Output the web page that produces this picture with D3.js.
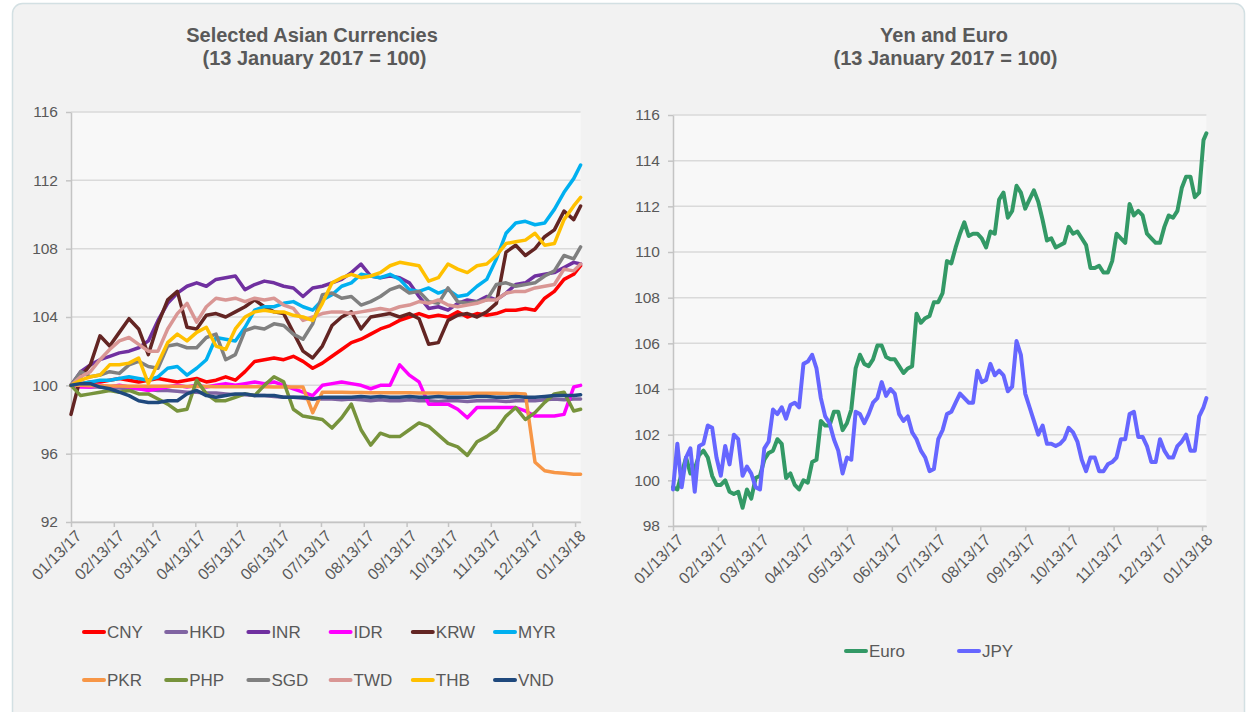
<!DOCTYPE html>
<html>
<head>
<meta charset="utf-8">
<script src="https://cdn.jsdelivr.net/npm/d3@7"></script>
<style>
  html, body { margin: 0; padding: 0; background: #ffffff; }
  svg { display: block; font-family: "Liberation Sans", Arial, sans-serif; }
</style>
</head>
<body>
<svg id="chart" width="1249" height="712"></svg>
<script>
// ---------- Selected Asian currencies, weekly index (13 Jan 2017 = 100) ----------
const asiaDates = ["01/13/17","01/20/17","01/27/17","02/03/17","02/10/17","02/17/17","02/24/17","03/03/17","03/10/17","03/17/17",
  "03/24/17","03/31/17","04/07/17","04/14/17","04/21/17","04/28/17","05/05/17","05/12/17","05/19/17","05/26/17",
  "06/02/17","06/09/17","06/16/17","06/23/17","06/30/17","07/07/17","07/14/17","07/21/17","07/28/17","08/04/17",
  "08/11/17","08/18/17","08/25/17","09/01/17","09/08/17","09/15/17","09/22/17","09/29/17","10/06/17","10/13/17",
  "10/20/17","10/27/17","11/03/17","11/10/17","11/17/17","11/24/17","12/01/17","12/08/17","12/15/17","12/22/17",
  "12/29/17","01/05/18","01/12/18","01/17/18"];

const asiaNames = ["CNY","HKD","INR","IDR","KRW","MYR","PKR","PHP","SGD","TWD","THB","VND"];
const asiaColors = ["#ff0000","#8064a2","#7030a0","#ff00ff","#632523","#00b0f0","#f79646","#77933c","#808080","#d99694","#ffc000","#1f497d"];

const cny = [100.0,100.1,100.2,100.2,100.3,100.4,100.3,100.2,100.3,100.4,
  100.3,100.2,100.3,100.4,100.2,100.3,100.5,100.3,100.8,101.4,
  101.5,101.6,101.5,101.7,101.4,101.0,101.3,101.7,102.1,102.5,
  102.7,103.0,103.3,103.5,103.8,104.0,104.2,104.0,104.1,104.0,
  104.3,104.0,104.2,104.1,104.2,104.4,104.4,104.5,104.4,105.1,
  105.5,106.2,106.5,107.0];
const hkd = [100.0,99.95,99.9,99.9,99.85,99.85,99.8,99.8,99.75,99.7,
  99.7,99.65,99.6,99.6,99.55,99.55,99.5,99.45,99.45,99.4,
  99.4,99.35,99.3,99.3,99.25,99.2,99.2,99.2,99.15,99.2,
  99.15,99.1,99.15,99.1,99.1,99.15,99.1,99.1,99.05,99.1,
  99.1,99.05,99.1,99.1,99.1,99.05,99.1,99.1,99.1,99.15,
  99.2,99.15,99.2,99.2];
const inr = [100.0,100.8,101.2,101.5,101.7,101.9,102.0,102.2,102.6,103.8,
  104.8,105.4,105.8,106.0,105.8,106.2,106.3,106.4,105.6,105.9,
  106.1,106.0,105.8,105.7,105.2,105.7,105.8,106.0,106.2,106.6,
  107.1,106.4,106.3,106.4,106.3,106.0,105.2,104.5,104.6,104.4,
  104.8,105.0,104.9,105.2,105.0,105.4,105.9,106.0,106.4,106.5,
  106.6,106.9,107.2,107.1];
const idr = [100.0,99.9,99.9,100.0,99.9,100.0,99.9,99.8,99.7,99.8,
  99.9,100.0,99.9,100.0,99.9,100.0,100.1,100.0,100.1,100.2,
  100.1,100.2,100.0,99.8,99.6,99.4,100.0,100.1,100.2,100.1,
  100.0,99.8,100.0,100.0,101.2,100.6,100.2,98.9,98.9,98.9,
  98.6,98.1,98.7,98.7,98.7,98.7,98.7,98.5,98.2,98.2,
  98.2,98.3,99.9,100.0];
const krw = [98.3,100.5,101.2,102.9,102.3,103.1,103.9,103.3,101.8,103.6,
  105.0,105.5,103.4,103.3,104.1,104.2,104.0,104.3,104.6,105.0,
  104.6,104.3,104.2,103.1,102.0,101.6,102.3,103.5,104.0,104.3,
  103.3,104.0,104.1,104.2,104.0,104.2,103.9,102.4,102.5,103.8,
  104.1,104.2,104.0,104.3,104.8,107.8,108.2,107.6,108.0,108.7,
  109.1,110.2,109.7,110.5];
const myr = [100.0,100.1,100.2,100.3,100.3,100.4,100.5,100.4,100.3,100.5,
  101.0,101.1,100.6,101.0,101.5,102.8,102.7,102.6,103.4,104.4,
  104.6,104.6,104.8,104.9,104.6,104.4,105.0,105.3,105.8,106.0,
  106.5,106.4,106.3,106.5,106.2,105.6,105.5,105.7,105.4,105.6,
  105.2,105.3,105.8,106.2,107.4,108.9,109.5,109.6,109.4,109.5,
  110.3,111.3,112.1,112.9];
const pkr = [100.0,100.0,99.98,99.97,99.96,99.96,99.95,99.95,99.95,99.94,
  99.94,99.94,99.93,99.93,99.93,99.92,99.92,99.92,99.92,99.91,
  99.91,99.9,99.9,99.9,99.9,98.4,99.6,99.6,99.6,99.58,
  99.58,99.57,99.57,99.56,99.56,99.56,99.55,99.55,99.55,99.54,
  99.54,99.54,99.53,99.53,99.53,99.52,99.52,99.5,95.5,95.0,
  94.9,94.85,94.8,94.8];
const php = [100.0,99.4,99.5,99.6,99.7,99.6,99.7,99.5,99.5,99.2,
  98.9,98.5,98.6,100.3,99.5,99.1,99.1,99.3,99.5,99.4,
  100.0,100.5,100.2,98.6,98.2,98.1,98.0,97.5,98.1,98.9,
  97.4,96.5,97.2,97.0,97.0,97.4,97.8,97.6,97.1,96.6,
  96.4,95.9,96.7,97.0,97.4,98.2,98.7,98.0,98.4,99.0,
  99.5,99.6,98.5,98.6];
const sgd = [100.0,100.8,100.5,100.6,100.8,100.7,101.2,101.4,101.1,101.0,
  102.3,102.4,102.2,102.2,102.8,103.0,101.5,101.8,103.2,103.4,
  103.3,103.6,103.5,103.0,102.7,103.6,105.3,105.4,105.1,105.2,
  104.7,104.9,105.2,105.6,105.8,105.4,105.5,104.9,104.8,105.7,
  104.9,104.8,104.9,105.0,105.9,106.0,105.8,105.9,106.0,106.4,
  106.7,107.6,107.4,108.1];
const twd = [100.0,100.5,100.8,101.5,102.1,102.6,102.8,102.4,102.0,102.0,
  103.3,104.2,104.8,103.7,104.6,105.1,105.0,105.1,104.9,105.1,
  105.0,105.1,104.7,104.5,103.8,104.0,104.2,104.3,104.3,104.2,
  104.3,104.4,104.5,104.4,104.6,104.7,104.9,104.8,105.0,104.7,
  104.6,104.7,104.8,105.0,105.0,105.4,105.5,105.5,105.7,105.8,
  105.9,106.8,106.7,107.1];
const thb = [100.0,100.3,100.5,100.6,101.2,101.2,101.3,101.6,100.1,101.3,
  102.5,103.0,102.6,103.1,103.4,102.3,102.1,103.3,104.0,104.3,
  104.4,104.3,104.3,104.1,104.0,103.8,104.8,106.0,106.3,106.5,
  106.3,106.4,106.6,107.0,107.2,107.1,107.0,106.1,106.3,107.1,
  106.8,106.6,107.0,107.1,107.6,108.3,108.4,108.5,108.9,108.2,
  108.3,109.7,110.5,111.0];
const vnd = [100.0,100.1,100.1,99.9,99.8,99.6,99.4,99.1,99.0,99.0,
  99.1,99.1,99.5,99.7,99.4,99.3,99.4,99.5,99.5,99.4,
  99.4,99.4,99.3,99.3,99.3,99.2,99.3,99.3,99.3,99.3,
  99.35,99.3,99.35,99.3,99.3,99.35,99.3,99.3,99.35,99.3,
  99.3,99.3,99.35,99.35,99.3,99.3,99.35,99.3,99.3,99.35,
  99.4,99.4,99.4,99.45];
const asiaValues = [cny, hkd, inr, idr, krw, myr, pkr, php, sgd, twd, thb, vnd];

// ---------- Yen and Euro, sampled every three days (13 Jan 2017 = 100) ----------
const fxDates = ["01/13/17","01/16/17","01/19/17","01/22/17","01/25/17","01/28/17","01/31/17","02/03/17","02/06/17","02/09/17",
  "02/12/17","02/15/17","02/18/17","02/21/17","02/24/17","02/27/17","03/02/17","03/05/17","03/08/17","03/11/17",
  "03/14/17","03/17/17","03/20/17","03/23/17","03/26/17","03/29/17","04/01/17","04/04/17","04/07/17","04/10/17",
  "04/13/17","04/16/17","04/19/17","04/22/17","04/25/17","04/28/17","05/01/17","05/04/17","05/07/17","05/10/17",
  "05/13/17","05/16/17","05/19/17","05/22/17","05/25/17","05/28/17","05/31/17","06/03/17","06/06/17","06/09/17",
  "06/12/17","06/15/17","06/18/17","06/21/17","06/24/17","06/27/17","06/30/17","07/03/17","07/06/17","07/09/17",
  "07/12/17","07/15/17","07/18/17","07/21/17","07/24/17","07/27/17","07/30/17","08/02/17","08/05/17","08/08/17",
  "08/11/17","08/14/17","08/17/17","08/20/17","08/23/17","08/26/17","08/29/17","09/01/17","09/04/17","09/07/17",
  "09/10/17","09/13/17","09/16/17","09/19/17","09/22/17","09/25/17","09/28/17","10/01/17","10/04/17","10/07/17",
  "10/10/17","10/13/17","10/16/17","10/19/17","10/22/17","10/25/17","10/28/17","10/31/17","11/03/17","11/06/17",
  "11/09/17","11/12/17","11/15/17","11/18/17","11/21/17","11/24/17","11/27/17","11/30/17","12/03/17","12/06/17",
  "12/09/17","12/12/17","12/15/17","12/18/17","12/21/17","12/24/17","12/27/17","12/30/17","01/02/18","01/05/18",
  "01/08/18","01/11/18","01/14/18","01/16/18"];

const fxNames = ["Euro","JPY"];
const fxColors = ["#339966","#6666ff"];

const euro = [99.7,99.6,100.3,101.0,100.3,100.5,101.1,101.3,101.0,100.2,
  99.8,99.8,100.0,99.5,99.4,99.5,98.8,99.6,99.2,100.1,
  100.2,100.9,101.2,101.3,101.8,101.6,100.1,100.3,99.8,99.6,
  100.0,99.9,100.8,100.9,102.6,102.4,102.4,103.0,103.0,102.2,
  102.5,103.1,104.9,105.5,105.1,105.0,105.3,105.9,105.9,105.4,
  105.3,105.3,105.0,104.7,104.9,105.0,107.3,106.9,107.1,107.2,
  107.8,107.8,108.2,109.6,109.5,110.2,110.8,111.3,110.7,110.8,
  110.8,110.6,110.2,110.9,110.8,112.3,112.6,111.5,111.8,112.9,
  112.6,111.9,112.3,112.7,112.2,111.4,110.5,110.6,110.2,110.3,
  110.4,111.1,110.8,110.9,110.6,110.3,109.3,109.3,109.4,109.1,
  109.1,109.6,110.8,110.6,110.4,112.1,111.6,111.8,111.6,110.8,
  110.6,110.4,110.4,111.1,111.6,111.5,111.8,112.8,113.3,113.3,
  112.4,112.6,114.9,115.2];
const jpy = [99.6,101.6,99.7,101.0,101.4,99.5,101.5,101.6,102.4,102.3,
  101.0,100.2,101.5,100.7,102.0,101.8,100.2,100.6,100.3,99.7,
  99.6,101.4,101.7,103.1,102.9,103.2,102.7,103.3,103.4,103.2,
  105.1,105.2,105.5,104.9,103.6,102.8,102.5,101.8,101.3,100.3,
  101.0,100.9,103.0,102.9,102.5,102.9,103.4,103.6,104.3,103.7,
  104.0,103.8,102.9,102.6,102.8,102.1,101.8,101.3,101.0,100.4,
  100.5,101.8,102.2,102.9,103.0,103.4,103.8,103.6,103.4,103.4,
  104.8,104.3,104.4,105.1,104.6,104.8,104.6,103.9,104.1,106.1,
  105.5,103.8,103.2,102.6,102.0,102.4,101.6,101.6,101.5,101.6,
  101.8,102.3,102.1,101.7,100.9,100.4,101.0,101.0,100.4,100.4,
  100.7,100.8,101.0,101.8,101.8,102.9,103.0,101.9,101.9,101.5,
  100.8,100.8,101.8,101.3,101.0,101.0,101.5,101.7,102.0,101.3,
  101.3,102.8,103.2,103.6];
const fxValues = [euro, jpy];

// Monthly axis ticks shared by both panels
const tickLabels = ["01/13/17","02/13/17","03/13/17","04/13/17","05/13/17","06/13/17","07/13/17",
  "08/13/17","09/13/17","10/13/17","11/13/17","12/13/17","01/13/18"];

// ---------- drawing ----------
const parse = d3.timeParse("%m/%d/%y");
const fmt = d3.timeFormat("%m/%d/%y");
const svg = d3.select("#chart");
const TEXT = "#595959";

// card behind both panels
svg.append("rect")
  .attr("x", 12.5).attr("y", 3.5).attr("width", 1232).attr("height", 740)
  .attr("rx", 10).attr("fill", "#f2f2f2").attr("stroke", "#d3e0e3").attr("stroke-width", 1.5);

function drawPanel(o) {
  const g = svg.append("g");
  const dates = o.dates.map(parse);
  const x = d3.scaleTime().domain([dates[0], dates[dates.length - 1]]).range(o.xRange);
  const y = d3.scaleLinear().domain(o.yDomain).range(o.yRange);
  const [x0, x1] = o.xRange, [yb, yt] = o.yRange;

  g.append("rect").attr("x", x0).attr("y", yt).attr("width", x1 - x0).attr("height", yb - yt)
    .attr("fill", "#f8f8f8");

  // horizontal gridlines
  g.append("g").selectAll("line").data(o.yTicks).join("line")
    .attr("x1", x0).attr("x2", x1)
    .attr("y1", d => y(d)).attr("y2", d => y(d))
    .attr("stroke", "#dadada").attr("stroke-width", 1.5);

  // y axis
  const ya = g.append("g").attr("transform", `translate(${x0},0)`)
    .call(d3.axisLeft(y).tickValues(o.yTicks).tickSize(5).tickPadding(8).tickSizeOuter(0));
  ya.select(".domain").attr("stroke", "#c4c4c4").attr("stroke-width", 1.5);
  ya.selectAll(".tick line").attr("stroke", "#c4c4c4").attr("stroke-width", 1.5);
  ya.selectAll("text").attr("fill", TEXT).style("font-size", "15.5px")
    .style("font-family", "'Liberation Sans', Arial, sans-serif");

  // x axis with rotated date labels
  const xa = g.append("g").attr("transform", `translate(0,${yb})`)
    .call(d3.axisBottom(x).tickValues(o.ticks.map(parse)).tickFormat(fmt).tickSize(5).tickSizeOuter(0));
  xa.select(".domain").attr("stroke", "#c4c4c4").attr("stroke-width", 1.5);
  xa.selectAll(".tick line").attr("stroke", "#c4c4c4").attr("stroke-width", 1.5);
  xa.selectAll("text")
    .attr("fill", TEXT).style("font-size", "16px")
    .style("font-family", "'Liberation Sans', Arial, sans-serif")
    .attr("text-anchor", "end")
    .attr("x", 0).attr("y", 0).attr("dy", "0.35em")
    .attr("transform", "translate(7,11) rotate(-45)");

  // series lines (first drawn at the back)
  const line = d3.line().x((d, i) => x(dates[i])).y(d => y(d)).curve(d3.curveLinear);
  o.values.forEach((vals, k) => {
    g.append("path").datum(vals)
      .attr("d", line)
      .attr("fill", "none")
      .attr("stroke", o.colors[k])
      .attr("stroke-width", o.lineWidth)
      .attr("stroke-linejoin", "round")
      .attr("stroke-linecap", "round");
  });

  // title
  const t = g.append("text").attr("text-anchor", "middle").attr("fill", TEXT)
    .style("font-size", "20px").style("font-weight", "bold");
  t.append("tspan").attr("x", o.titleX).attr("y", 42).text(o.title[0]);
  t.append("tspan").attr("x", o.titleX + o.titleShift).attr("y", 65).text(o.title[1]);

  // legend
  const lg = g.append("g");
  o.names.forEach((name, k) => {
    const [lx, ly] = o.legendPos[k];
    lg.append("line").attr("x1", lx + 2).attr("x2", lx + 22).attr("y1", ly).attr("y2", ly)
      .attr("stroke", o.colors[k]).attr("stroke-width", 4).attr("stroke-linecap", "round");
    lg.append("text").attr("x", lx + 25).attr("y", ly).attr("dy", "0.36em")
      .attr("fill", TEXT).style("font-size", "17px").text(name);
  });
}

const asiaLegend = asiaNames.map((n, k) => [82 + (k % 6) * 82.2, k < 6 ? 632 : 680]);
drawPanel({
  dates: asiaDates, values: asiaValues, names: asiaNames, colors: asiaColors,
  xRange: [71, 580.6], yRange: [522, 112], yDomain: [92, 116], yTicks: [92, 96, 100, 104, 108, 112, 116],
  ticks: tickLabels, lineWidth: 3.5,
  title: ["Selected Asian Currencies", "(13 January 2017 = 100)"], titleX: 312, titleShift: 2.5,
  legendPos: asiaLegend
});

drawPanel({
  dates: fxDates, values: fxValues, names: fxNames, colors: fxColors,
  xRange: [673, 1206.4], yRange: [526, 115], yDomain: [98, 116], yTicks: [98, 100, 102, 104, 106, 108, 110, 112, 114, 116],
  ticks: tickLabels, lineWidth: 4,
  title: ["Yen and Euro", "(13 January 2017 = 100)"], titleX: 944, titleShift: 1.5,
  legendPos: [[844, 651], [957, 651]]
});
</script>
</body>
</html>
